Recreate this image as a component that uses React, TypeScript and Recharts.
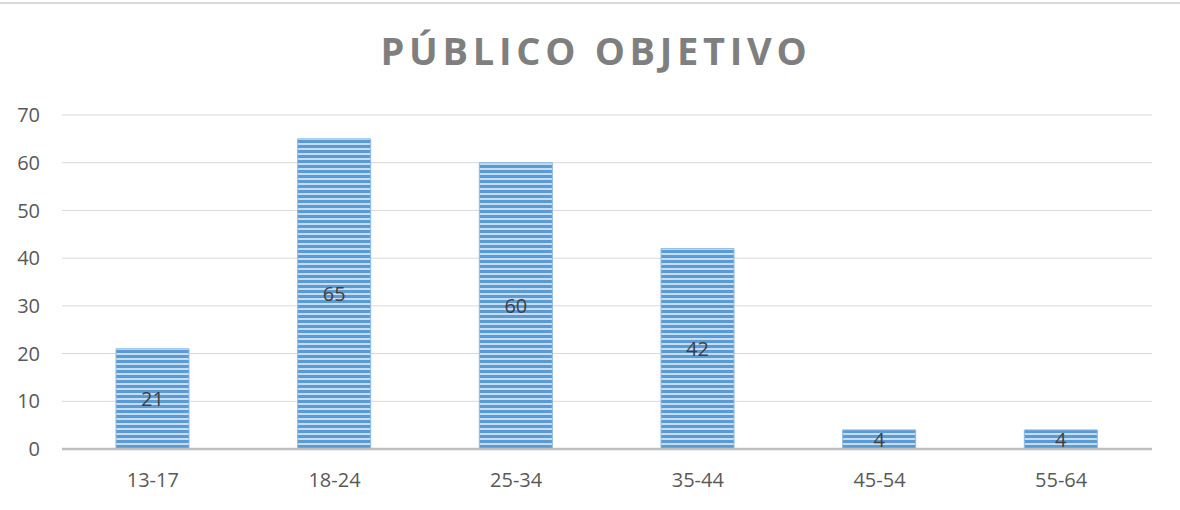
import React from 'react';
import { BarChart, Bar, XAxis, YAxis, CartesianGrid, LabelList } from 'recharts';

const ageGroups = ['13-17', '18-24', '25-34', '35-44', '45-54', '55-64'];
const audience = [21, 65, 60, 42, 4, 4];
const yTicks = [0, 10, 20, 30, 40, 50, 60, 70];

const chartData = ageGroups.map((g, i) => ({ group: g, value: audience[i] }));

const font = '"Open Sans", Calibri, sans-serif';

export default function App() {
  return (
    <div style={{ position: 'absolute', left: 0, top: 0, width: 1180, height: 510, background: '#fff', fontFamily: font }}>
      <svg width={0} height={0} style={{ position: 'absolute' }}>
        <defs>
          <pattern id="stripes" width={5} height={5} patternUnits="userSpaceOnUse">
            <rect x={0} y={0} width={5} height={5} fill="#c6dcf1" />
            <rect x={0} y={0} width={5} height={3} fill="#5b9bd5" />
          </pattern>
        </defs>
      </svg>
      <div style={{ position: 'absolute', left: 0, top: 2, width: 1180, height: 2, background: '#d9d9d9' }} />
      <svg width={1180} height={100} style={{ position: 'absolute', left: 0, top: 0 }}>
        <text x={596} y={65} textAnchor="middle" fontFamily={font} fontWeight={700} fontSize={38} letterSpacing={4.7} fill="#7f7f7f">
          PÚBLICO OBJETIVO
        </text>
      </svg>
      <div style={{ position: 'absolute', left: 0, top: 0 }}>
        <BarChart width={1180} height={510} data={chartData} margin={{ top: 115, right: 28, left: 0, bottom: 31 }} barSize={73}>
          <CartesianGrid vertical={false} stroke="#d9d9d9" strokeWidth={1} />
          <XAxis
            dataKey="group"
            height={30}
            tickLine={false}
            axisLine={{ stroke: '#bfbfbf', strokeWidth: 2.5 }}
            tickMargin={18}
            tick={{ fill: '#595959', fontSize: 20, fontFamily: font }}
          />
          <YAxis
            width={62}
            domain={[0, 70]}
            ticks={yTicks}
            tickLine={false}
            axisLine={false}
            tickMargin={16}
            tick={{ fill: '#595959', fontSize: 20, fontFamily: font }}
          />
          <Bar dataKey="value" fill="url(#stripes)" stroke="#8db8e3" strokeWidth={1} isAnimationActive={false}>
            <LabelList dataKey="value" position="center" fill="#404040" fontSize={20} fontFamily={font} />
          </Bar>
        </BarChart>
      </div>
    </div>
  );
}
